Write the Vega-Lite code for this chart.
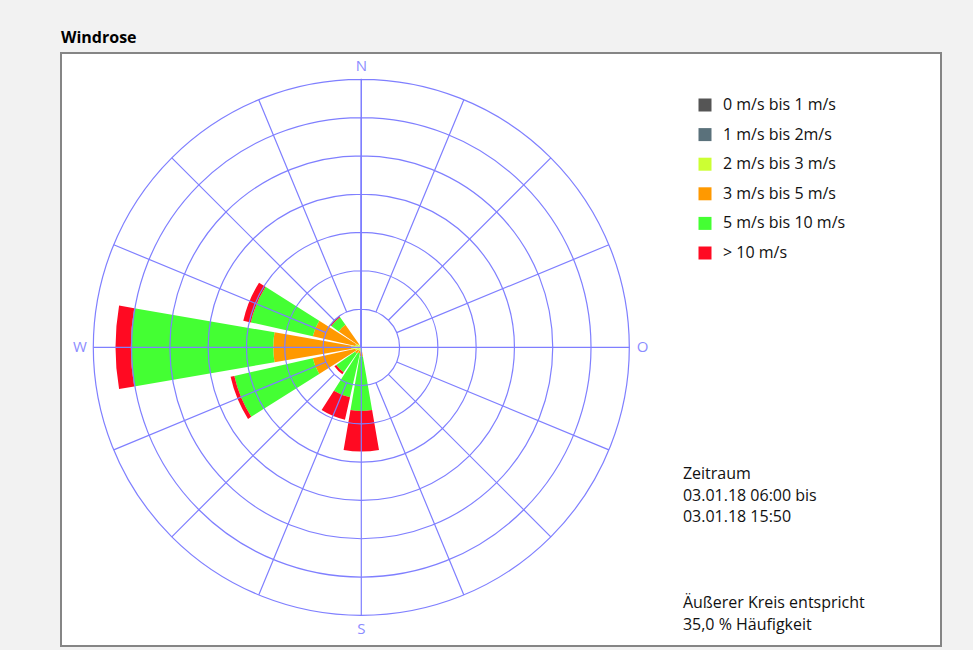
{
  "$schema": "https://vega.github.io/schema/vega-lite/v6.json",
  "width": 880,
  "height": 593,
  "autosize": {"type": "none"},
  "padding": {"left": 61, "top": 53, "right": 32, "bottom": 4},
  "background": "#f2f2f2",
  "config": {
    "view": {"stroke": "#858585", "strokeWidth": 2, "fill": "#ffffff"},
    "font": "Open Sans"
  },
  "title": {
    "text": "Windrose",
    "anchor": "start",
    "frame": "group",
    "font": "Open Sans",
    "fontSize": 16,
    "fontWeight": "bold",
    "color": "#000000",
    "baseline": "alphabetic",
    "offset": 10,
    "dy": 16
  },
  "encoding": {
    "x": {"datum": 0, "type": "quantitative", "stack": null, "scale": {"domain": [-39.22, 75.71], "nice": false, "zero": false}, "axis": null},
    "y": {"datum": 0, "type": "quantitative", "stack": null, "scale": {"domain": [-39.01, 38.44], "nice": false, "zero": false}, "axis": null}
  },
  "layer": [
    {
      "data": {"values": [
        {"dir": 292.5, "speed": "2 m/s bis 3 m/s", "lo": 2, "p": 0.8},
        {"dir": 292.5, "speed": "3 m/s bis 5 m/s", "lo": 3, "p": 5.7},
        {"dir": 292.5, "speed": "5 m/s bis 10 m/s", "lo": 5, "p": 8.3},
        {"dir": 292.5, "speed": "> 10 m/s", "lo": 10, "p": 1.0},
        {"dir": 270, "speed": "2 m/s bis 3 m/s", "lo": 2, "p": 1.3},
        {"dir": 270, "speed": "3 m/s bis 5 m/s", "lo": 3, "p": 10.2},
        {"dir": 270, "speed": "5 m/s bis 10 m/s", "lo": 5, "p": 18.6},
        {"dir": 270, "speed": "> 10 m/s", "lo": 10, "p": 2.0},
        {"dir": 247.5, "speed": "2 m/s bis 3 m/s", "lo": 2, "p": 0.8},
        {"dir": 247.5, "speed": "3 m/s bis 5 m/s", "lo": 3, "p": 5.7},
        {"dir": 247.5, "speed": "5 m/s bis 10 m/s", "lo": 5, "p": 10.5},
        {"dir": 247.5, "speed": "> 10 m/s", "lo": 10, "p": 0.5},
        {"dir": 225, "speed": "2 m/s bis 3 m/s", "lo": 2, "p": 0.5},
        {"dir": 225, "speed": "3 m/s bis 5 m/s", "lo": 3, "p": 0.5},
        {"dir": 225, "speed": "5 m/s bis 10 m/s", "lo": 5, "p": 3.0},
        {"dir": 225, "speed": "> 10 m/s", "lo": 10, "p": 0.3},
        {"dir": 202.5, "speed": "2 m/s bis 3 m/s", "lo": 2, "p": 0.5},
        {"dir": 202.5, "speed": "3 m/s bis 5 m/s", "lo": 3, "p": 0.3},
        {"dir": 202.5, "speed": "5 m/s bis 10 m/s", "lo": 5, "p": 5.9},
        {"dir": 202.5, "speed": "> 10 m/s", "lo": 10, "p": 3.0},
        {"dir": 180, "speed": "2 m/s bis 3 m/s", "lo": 2, "p": 0.6},
        {"dir": 180, "speed": "3 m/s bis 5 m/s", "lo": 3, "p": 0.6},
        {"dir": 180, "speed": "5 m/s bis 10 m/s", "lo": 5, "p": 7.1},
        {"dir": 180, "speed": "> 10 m/s", "lo": 10, "p": 5.3},
        {"dir": 315, "speed": "2 m/s bis 3 m/s", "lo": 2, "p": 0.5},
        {"dir": 315, "speed": "3 m/s bis 5 m/s", "lo": 3, "p": 3.1},
        {"dir": 315, "speed": "5 m/s bis 10 m/s", "lo": 5, "p": 1.2},
        {"dir": 315, "speed": "> 10 m/s", "lo": 10, "p": 0.2}
      ]},
      "transform": [
        {"stack": "p", "groupby": ["dir"], "sort": [{"field": "lo", "order": "ascending"}], "as": ["r0", "r1"]}
      ],
      "mark": {"type": "arc"},
      "encoding": {
        "theta": {
          "field": "dir", "type": "ordinal",
          "scale": {"type": "band", "domain": [0, 22.5, 45, 67.5, 90, 112.5, 135, 157.5, 180, 202.5, 225, 247.5, 270, 292.5, 315, 337.5], "range": [-0.19635, 6.08684], "paddingInner": 0.13, "paddingOuter": 0.065}
        },
        "radius": {"field": "r1", "type": "quantitative", "stack": null, "scale": {"type": "linear", "domain": [0, 35], "range": [0, 268], "zero": true, "nice": false}},
        "radius2": {"field": "r0"},
        "color": {
          "field": "speed", "type": "nominal",
          "scale": {
            "domain": ["0 m/s bis 1 m/s", "1 m/s bis 2m/s", "2 m/s bis 3 m/s", "3 m/s bis 5 m/s", "5 m/s bis 10 m/s", "> 10 m/s"],
            "range": ["#555555", "#5a717b", "#ccff33", "#ff9900", "#44ff33", "#ff0a22"]
          },
          "legend": {
            "title": null, "orient": "none", "legendX": 636, "legendY": 44,
            "symbolType": "square", "symbolSize": 169, "symbolStrokeWidth": 0, "symbolOpacity": 1,
            "labelFont": "Open Sans", "labelFontSize": 16, "labelColor": "#111111", "labelOffset": 10,
            "rowPadding": 13.6, "padding": 0, "labelLimit": 300
          }
        }
      }
    },
    {
      "data": {"values": [{"r": 5}, {"r": 10}, {"r": 15}, {"r": 20}, {"r": 25}, {"r": 30}, {"r": 35}]},
      "mark": {"type": "arc", "filled": false, "stroke": "#7f7fff", "strokeWidth": 1.2},
      "encoding": {
        "theta": {"datum": 0, "type": "quantitative", "stack": null, "scale": {"type": "linear", "domain": [0, 360], "range": [0, 6.283185307]}},
        "theta2": {"datum": 360},
        "radius": {"field": "r", "type": "quantitative", "stack": null, "scale": {"type": "linear", "domain": [0, 35], "range": [0, 268], "zero": true, "nice": false}}
      }
    },
    {
      "data": {"values": [{"a": 22.5}, {"a": 45}, {"a": 67.5}, {"a": 112.5}, {"a": 135}, {"a": 157.5}, {"a": 202.5}, {"a": 225}, {"a": 247.5}, {"a": 292.5}, {"a": 315}, {"a": 337.5}]},
      "mark": {"type": "arc", "filled": false, "stroke": "#7f7fff", "strokeWidth": 1.2},
      "encoding": {
        "theta": {"field": "a", "type": "quantitative", "stack": null, "scale": {"type": "linear", "domain": [0, 360], "range": [0, 6.283185307]}},
        "theta2": {"field": "a"},
        "radius": {"datum": 35, "type": "quantitative", "stack": null, "scale": {"type": "linear", "domain": [0, 35], "range": [0, 268], "zero": true, "nice": false}},
        "radius2": {"datum": 5}
      }
    },
    {
      "data": {"values": [{"a": 0}, {"a": 90}, {"a": 180}, {"a": 270}]},
      "mark": {"type": "arc", "filled": false, "stroke": "#7f7fff", "strokeWidth": 1.2},
      "encoding": {
        "theta": {"field": "a", "type": "quantitative", "stack": null, "scale": {"type": "linear", "domain": [0, 360], "range": [0, 6.283185307]}},
        "theta2": {"field": "a"},
        "radius": {"datum": 35, "type": "quantitative", "stack": null, "scale": {"type": "linear", "domain": [0, 35], "range": [0, 268], "zero": true, "nice": false}},
        "radius2": {"datum": 0}
      }
    },
    {
      "data": {"values": [{"l": "N", "a": 0}, {"l": "O", "a": 90}, {"l": "S", "a": 180}, {"l": "W", "a": 270}]},
      "mark": {"type": "text", "align": "center", "baseline": "middle", "fontSize": 15, "font": "Open Sans", "color": "#8c8cff"},
      "encoding": {
        "theta": {"field": "a", "type": "quantitative", "scale": {"type": "linear", "domain": [0, 360], "range": [0, 6.283185307]}},
        "radius": {"datum": 36.75, "type": "quantitative", "scale": {"type": "linear", "domain": [0, 35], "range": [0, 268], "zero": true, "nice": false}},
        "text": {"field": "l"}
      }
    },
    {
      "data": {"values": [{"t": "Zeitraum\n03.01.18 06:00 bis\n03.01.18 15:50"}]},
      "mark": {"type": "text", "align": "left", "baseline": "alphabetic", "lineBreak": "\n", "lineHeight": 21.5, "fontSize": 16, "font": "Open Sans", "color": "#111111"},
      "encoding": {
        "x": {"datum": 42.0, "type": "quantitative", "scale": {"domain": [-39.22, 75.71], "nice": false, "zero": false}, "axis": null},
        "y": {"datum": -17.25, "type": "quantitative", "scale": {"domain": [-39.01, 38.44], "nice": false, "zero": false}, "axis": null},
        "text": {"field": "t"}
      }
    },
    {
      "data": {"values": [{"t": "Äußerer Kreis entspricht\n35,0 % Häufigkeit"}]},
      "mark": {"type": "text", "align": "left", "baseline": "alphabetic", "lineBreak": "\n", "lineHeight": 21.5, "fontSize": 16, "font": "Open Sans", "color": "#111111"},
      "encoding": {
        "x": {"datum": 42.0, "type": "quantitative", "scale": {"domain": [-39.22, 75.71], "nice": false, "zero": false}, "axis": null},
        "y": {"datum": -34.05, "type": "quantitative", "scale": {"domain": [-39.01, 38.44], "nice": false, "zero": false}, "axis": null},
        "text": {"field": "t"}
      }
    }
  ],
  "resolve": {"scale": {"theta": "independent"}}
}
